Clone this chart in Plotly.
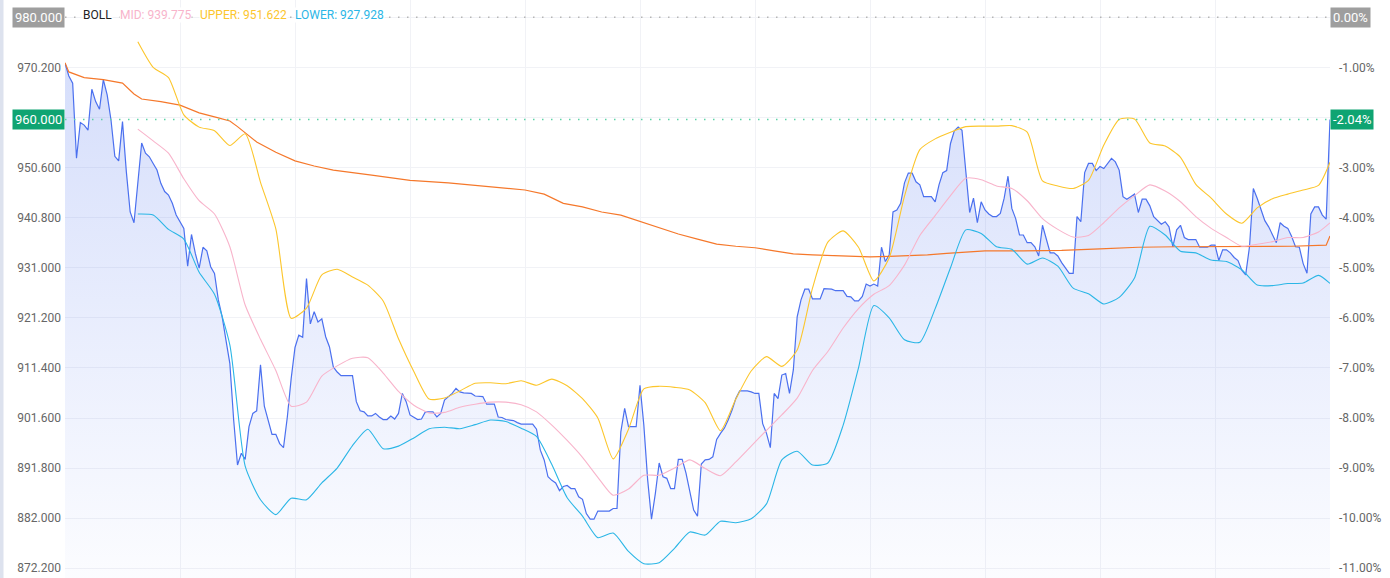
import plotly.graph_objects as go

# minute index -> last price
price = [
    971.0, 968.5, 967.1, 952.4, 959.4, 958.9, 957.9, 965.9, 963.5, 962.0,
    967.8, 964.8, 959.9, 952.8, 951.9, 959.6, 949.8, 941.9, 939.8, 947.6,
    955.4, 953.4, 952.7, 951.4, 950.1, 947.5, 945.9, 945.2, 943.6, 941.3,
    940.0, 938.7, 931.3, 937.5, 933.8, 930.9, 935.0, 934.3, 931.2, 929.9,
    924.7, 921.4, 916.8, 912.3, 901.2, 892.4, 894.7, 893.5, 899.9, 902.5,
    903.0, 912.0, 903.9, 901.2, 898.4, 898.4, 896.6, 895.8, 901.8, 909.3,
    915.4, 917.8, 917.4, 928.9, 920.0, 922.4, 920.4, 921.0, 917.5, 915.5,
    911.6, 910.6, 909.9, 909.9, 909.9, 909.9, 904.8, 903.0, 902.8, 902.0,
    902.0, 902.5, 901.8, 901.3, 901.3, 902.0, 901.4, 902.5, 906.4, 904.8,
    902.2, 901.8, 901.3, 901.4, 902.8, 902.8, 902.8, 901.8, 902.5, 905.1,
    905.8, 906.4, 907.4, 906.7, 906.5, 906.4, 906.4, 905.9, 905.9, 905.8,
    904.3, 904.3, 904.3, 901.8, 901.7, 901.3, 901.2, 901.1, 900.7, 900.4,
    900.4, 900.4, 900.4, 899.4, 895.3, 893.4, 890.1, 889.4, 888.9, 887.4,
    888.2, 888.4, 887.8, 887.8, 886.2, 885.7, 882.9, 881.8, 881.8, 883.4,
    883.4, 883.4, 883.4, 883.9, 883.9, 898.9, 903.5, 899.9, 899.9, 899.9,
    908.0, 900.2, 889.5, 881.8, 886.8, 892.8, 890.1, 889.8, 887.8, 887.8,
    893.5, 893.5, 890.8, 887.5, 883.6, 882.4, 892.6, 893.4, 893.5, 894.0,
    897.4, 898.6, 899.6, 901.2, 903.1, 905.4, 906.9, 906.9, 906.9, 906.7,
    906.4, 906.4, 900.5, 898.6, 895.8, 906.4, 905.4, 910.0, 910.3, 906.4,
    911.0, 921.4, 924.7, 926.8, 926.8, 924.9, 924.9, 924.9, 926.9, 926.9,
    926.8, 926.5, 926.5, 926.5, 925.4, 925.3, 924.5, 924.5, 925.4, 927.8,
    927.4, 927.8, 927.4, 935.0, 932.2, 933.5, 941.9, 942.3, 943.6, 947.6,
    949.5, 949.5, 947.8, 947.2, 944.9, 944.9, 944.9, 943.9, 947.2, 949.6,
    950.0, 955.3, 957.8, 958.5, 957.9, 949.8, 941.8, 944.6, 939.8, 943.9,
    942.3, 941.5, 941.0, 941.0, 941.6, 944.6, 948.9, 942.6, 940.6, 937.4,
    937.4, 935.9, 935.9, 935.1, 933.3, 939.3, 936.4, 933.9, 933.9, 933.3,
    932.0, 930.9, 929.9, 929.9, 941.0, 940.0, 949.6, 951.4, 951.4, 950.0,
    950.8, 950.4, 951.5, 952.4, 951.7, 950.1, 944.9, 944.4, 944.9, 945.4,
    941.8, 944.4, 944.4, 943.1, 941.0, 940.2, 939.5, 940.0, 939.0, 935.1,
    938.4, 939.3, 936.9, 936.5, 936.5, 936.5, 935.0, 935.0, 935.0, 935.4,
    935.4, 932.4, 934.5, 934.5, 933.9, 933.0, 932.4, 930.5, 929.6, 935.1,
    946.5, 944.6, 942.3, 940.2, 939.0, 937.4, 935.9, 939.8, 939.1, 938.7,
    937.1, 935.1, 935.0, 931.8, 929.9, 941.5, 942.9, 942.9, 941.3, 940.5,
    960.0,
]

# average price line, read at these minutes
avg_t = [0, 1, 5, 10, 15, 18, 20, 25, 30, 35, 40, 43, 45, 50, 55, 60, 65, 70,
         80, 90, 100, 110, 115, 120, 125, 130, 135, 140, 145, 150, 155, 160,
         165, 170, 175, 180, 185, 190, 195, 200, 205, 210, 215, 220, 225, 230,
         235, 240, 250, 260, 270, 280, 290, 300, 310, 320, 329, 330]
avg = [971.1, 969.3, 968.2, 967.8, 967.1, 965.0, 964.0, 963.5, 962.8, 961.3,
       960.3, 959.7, 958.6, 955.6, 953.6, 951.9, 950.9, 950.1, 949.1, 948.1,
       947.6, 946.9, 946.6, 946.2, 945.4, 943.6, 942.9, 941.9, 941.3, 940.1,
       938.8, 937.6, 936.6, 935.6, 935.2, 934.9, 934.3, 933.7, 933.5, 933.4,
       933.3, 933.1, 933.2, 933.3, 933.5, 933.8, 934.1, 934.3, 934.3, 934.4,
       934.7, 935.0, 935.1, 935.1, 935.1, 935.2, 935.4, 937.2]

# BOLL(20) bands, read every 4 minutes
boll_t = list(range(19, 328, 4)) + [330]
boll_upper = [
    975.2, 970.2, 968.2, 960.9, 958.5, 957.8, 954.9, 957.2, 947.7, 938.6,
    921.1, 923.1, 929.6, 930.7, 929.2, 927.6, 924.5, 917.1, 910.7, 905.3,
    905.5, 906.9, 908.4, 908.5, 908.3, 908.9, 908.0, 909.2, 907.9, 905.4,
    901.6, 893.6, 899.4, 907.3, 907.8, 907.6, 907.1, 904.6, 899.1, 905.3,
    910.8, 913.6, 911.7, 914.9, 927.0, 936.0, 938.2, 935.0, 928.4, 932.9,
    945.0, 954.1, 956.2, 957.5, 958.6, 958.7, 958.7, 958.8, 957.5, 948.0,
    947.0, 946.5, 948.1, 955.0, 960.0, 960.1, 955.4, 954.8, 952.6, 947.3,
    944.6, 941.5, 939.7, 942.7, 944.5, 945.4, 946.2, 947.1, 951.622,
]
boll_mid = [
    958.1, 955.8, 953.4, 948.4, 944.1, 941.5, 935.1, 923.7, 917.0, 910.9,
    903.9, 904.7, 909.8, 911.8, 913.3, 913.4, 910.4, 906.8, 904.1, 902.6,
    902.7, 903.7, 904.3, 904.7, 904.7, 904.2, 902.8, 900.2, 897.2, 893.9,
    890.0, 886.5, 887.7, 890.4, 890.4, 891.8, 893.4, 891.7, 890.3, 893.0,
    896.1, 899.2, 902.2, 905.5, 910.9, 914.6, 919.2, 923.0, 925.8, 927.5,
    931.5, 937.3, 941.2, 945.1, 948.5, 948.2, 947.0, 946.5, 944.1, 940.6,
    938.5, 937.0, 937.3, 939.8, 942.7, 945.1, 947.2, 946.0, 943.9, 941.0,
    938.7, 936.9, 935.2, 935.6, 936.1, 936.9, 936.9, 938.0, 939.775,
]
boll_lower = [
    941.5, 941.3, 938.5, 936.6, 930.1, 925.8, 915.9, 892.2, 885.6, 882.7,
    885.9, 885.6, 888.9, 891.8, 896.2, 899.4, 895.6, 896.1, 897.7, 899.5,
    899.8, 899.5, 900.3, 901.2, 900.9, 899.6, 898.0, 892.5, 886.0, 882.4,
    878.2, 879.1, 875.5, 873.1, 873.3, 876.1, 879.3, 878.7, 881.4, 881.1,
    881.9, 884.8, 893.4, 895.1, 892.4, 892.8, 900.2, 911.4, 923.6, 921.2,
    916.9, 916.4, 923.0, 931.0, 938.4, 937.7, 935.1, 934.6, 931.7, 932.9,
    931.3, 927.0, 925.9, 923.9, 925.2, 929.0, 939.1, 937.4, 934.2, 933.9,
    932.5, 932.2, 930.6, 927.6, 927.5, 927.9, 928.0, 929.5, 927.928,
]

prev_close = 980.0
left_ticks = [872.2 + 9.8 * k for k in range(12)]
right_ticks = [-11 + k for k in range(12)]
y_range = [870.30, 983.37]

BLUE = '#4b70ef'
ORANGE = '#f5782b'
PINK = '#f8b4cb'
YELLOW = '#fcc62c'
CYAN = '#2bb6e6'
GREEN = '#0fa472'
GREY = '#9e9e9e'
FONT = 'Roboto'


def pct(v):
    return (v / prev_close - 1) * 100


def box(text, x, xanchor, y, color, yref='y'):
    return dict(text=text, x=x, xref='paper', xanchor=xanchor, y=y, yref=yref,
                showarrow=False, bgcolor=color, borderpad=2,
                font=dict(family=FONT, size=13, color='white'))


def make_fig():
    t = list(range(len(price)))
    fig = go.Figure()
    fig.add_trace(go.Scatter(
        x=t, y=price, mode='lines', line=dict(color=BLUE, width=1.2),
        fill='tozeroy',
        fillgradient=dict(type='vertical', start=y_range[0], stop=971,
                          colorscale=[[0, 'rgba(75,112,239,0.02)'],
                                      [1, 'rgba(75,112,239,0.23)']]),
        hoverinfo='skip'))
    fig.add_trace(go.Scatter(x=avg_t, y=avg, mode='lines',
                             line=dict(color=ORANGE, width=1.2), hoverinfo='skip'))
    for vals, col in [(boll_mid, PINK), (boll_upper, YELLOW), (boll_lower, CYAN)]:
        fig.add_trace(go.Scatter(x=boll_t, y=vals, mode='lines',
                                 line=dict(color=col, width=1.1, shape='spline', smoothing=0.6),
                                 hoverinfo='skip'))
    # invisible trace so the % axis shows up
    fig.add_trace(go.Scatter(x=[0], y=[0], yaxis='y2', mode='markers',
                             marker=dict(opacity=0), hoverinfo='skip'))

    left_text = [f'{v:.3f}' for v in left_ticks]
    left_text[-1] = ''      # 980 under grey box
    left_text[-3] = ''      # 960.4 under green box
    right_text = [f'{v:.2f}%' for v in right_ticks]
    right_text[-1] = ''
    right_text[-3] = ''

    fig.update_layout(
        width=1390, height=578,
        margin=dict(l=65, r=60, t=0, b=0, autoexpand=False),
        paper_bgcolor='white', plot_bgcolor='white',
        showlegend=False,
        font=dict(family=FONT, size=12, color='#666666'),
        xaxis=dict(range=[0, 330], tickvals=list(range(0, 331, 30)),
                   showticklabels=False, showgrid=True, gridcolor='#f1f2f6',
                   zeroline=False, showline=False, automargin=False),
        yaxis=dict(range=y_range, tickvals=left_ticks, ticktext=left_text,
                   showgrid=True, gridcolor='#f1f2f6', zeroline=False,
                   ticks='', ticklabelstandoff=3, automargin=False),
        yaxis2=dict(range=[pct(y_range[0]), pct(y_range[1])], overlaying='y',
                    side='right', tickvals=right_ticks, ticktext=right_text,
                    showgrid=False, zeroline=False, ticks='', ticklabelstandoff=8,
                    automargin=False),
    )

    fig.add_shape(type='line', xref='x', yref='y', x0=0, x1=330, y0=980, y1=980,
                  line=dict(color='#b5b5b5', width=1.5, dash='1.5px,7.5px'))
    fig.add_shape(type='line', xref='x', yref='y', x0=0, x1=330, y0=960, y1=960,
                  line=dict(color='#5cd3a6', width=1.5, dash='1.5px,7.5px'))
    # thin strip on the far left
    fig.add_shape(type='rect', xref='paper', yref='paper', x0=-65 / 1265, x1=-61.5 / 1265,
                  y0=0, y1=1, line=dict(width=0), fillcolor='#dde2ee', layer='below')

    fig.add_annotation(**box('980.000', 0, 'right', 980, GREY))
    fig.add_annotation(**box('960.000', 0, 'right', 960, GREEN))
    fig.add_annotation(**box('0.00%', 1, 'left', 980, GREY))
    fig.add_annotation(**box(f'{pct(960):.2f}%', 1, 'left', 960, GREEN))

    legend = [('BOLL', '#222222', 82), (f'MID: {boll_mid[-1]:.3f}', PINK, 119),
              (f'UPPER: {boll_upper[-1]:.3f}', YELLOW, 199),
              (f'LOWER: {boll_lower[-1]:.3f}', CYAN, 294)]
    for text, col, px in legend:
        fig.add_annotation(text=text, x=(px - 65) / 1265, xref='paper', xanchor='left',
                           y=980.4, yref='y', yanchor='middle', showarrow=False,
                           bgcolor='white', borderpad=0,
                           font=dict(family=FONT, size=12, color=col))
    return fig


if __name__ == '__main__':
    fig = make_fig()
    # page has an 8px body margin by default, drop it so the chart sits at 0,0
    fig.write_html('out.html', config={'displayModeBar': False},
                   post_script="document.body.style.margin='0px';")
